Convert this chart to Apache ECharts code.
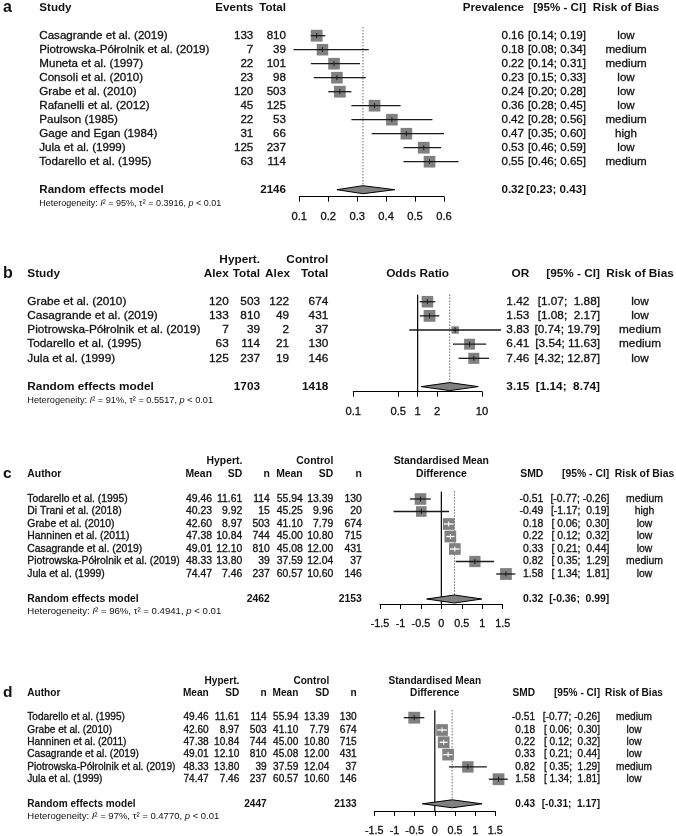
<!DOCTYPE html>
<html><head><meta charset="utf-8">
<script src="https://cdn.jsdelivr.net/npm/echarts@6/dist/echarts.min.js"></script>
<style>html,body{margin:0;padding:0;background:#fff}#c{width:676px;height:836px}</style>
</head><body><div id="c"></div>
<script>
// ---------- Panel a: prevalence ----------
const studiesA = ['Casagrande et al. (2019)', 'Piotrowska-Półrolnik et al. (2019)', 'Muneta et al. (1997)', 'Consoli et al. (2010)', 'Grabe et al. (2010)', 'Rafanelli et al. (2012)', 'Paulson (1985)', 'Gage and Egan (1984)', 'Jula et al. (1999)', 'Todarello et al. (1995)'];
const eventsA = [133, 7, 22, 23, 120, 45, 22, 31, 125, 63];
const totalA = [810, 39, 101, 98, 503, 125, 53, 66, 237, 114];
const prevA = [0.16, 0.18, 0.22, 0.23, 0.24, 0.36, 0.42, 0.47, 0.53, 0.55];
const prevLoA = [0.14, 0.08, 0.14, 0.15, 0.20, 0.28, 0.28, 0.35, 0.46, 0.46];
const prevHiA = [0.19, 0.34, 0.31, 0.33, 0.28, 0.45, 0.56, 0.60, 0.59, 0.65];
const weightA = [10.2, 9.7, 9.9, 9.9, 10.2, 10.0, 9.9, 9.9, 10.1, 10.0];
const riskA = ['low', 'medium', 'medium', 'low', 'low', 'low', 'medium', 'high', 'low', 'medium'];
const pooledTotalA = 2146;
const summaryA = [0.32, 0.23, 0.43];
const hetA = ['95%', '0.3916', '< 0.01'];
const ticksA = [0.1, 0.2, 0.3, 0.4, 0.5, 0.6];

// ---------- Panel b: odds ratio ----------
const studiesB = ['Grabe et al. (2010)', 'Casagrande et al. (2019)', 'Piotrowska-Półrolnik et al. (2019)', 'Todarello et al. (1995)', 'Jula et al. (1999)'];
const hypAlexB = [120, 133, 7, 63, 125];
const hypTotalB = [503, 810, 39, 114, 237];
const ctrlAlexB = [122, 49, 2, 21, 19];
const ctrlTotalB = [674, 431, 37, 130, 146];
const orB = [1.42, 1.53, 3.83, 6.41, 7.46];
const orLoB = [1.07, 1.08, 0.74, 3.54, 4.32];
const orHiB = [1.88, 2.17, 19.79, 11.63, 12.87];
const weightB = [23.5, 24.5, 9.5, 21.0, 21.5];
const riskB = ['low', 'low', 'medium', 'medium', 'low'];
const pooledTotalsB = [1703, 1418];
const summaryB = [3.15, 1.14, 8.74];
const hetB = ['91%', '0.5517', '< 0.01'];
const ticksB = [0.1, 0.5, 1, 2, 10];

// ---------- Panel c: SMD (7 studies) ----------
const studiesC = ['Todarello et al. (1995)', 'Di Trani et al. (2018)', 'Grabe et al. (2010)', 'Hanninen et al. (2011)', 'Casagrande et al. (2019)', 'Piotrowska-Półrolnik et al. (2019)', 'Jula et al. (1999)'];
const hMeanC = [49.46, 40.23, 42.60, 47.38, 49.01, 48.33, 74.47];
const hSdC = [11.61, 9.92, 8.97, 10.84, 12.10, 13.80, 7.46];
const hNC = [114, 15, 503, 744, 810, 39, 237];
const cMeanC = [55.94, 45.25, 41.10, 45.00, 45.08, 37.59, 60.57];
const cSdC = [13.39, 9.96, 7.79, 10.80, 12.00, 12.04, 10.60];
const cNC = [130, 20, 674, 715, 431, 37, 146];
const smdC = [-0.51, -0.49, 0.18, 0.22, 0.33, 0.82, 1.58];
const smdLoC = [-0.77, -1.17, 0.06, 0.12, 0.21, 0.35, 1.34];
const smdHiC = [-0.26, 0.19, 0.30, 0.32, 0.44, 1.29, 1.81];
const weightC = [14.6, 12.2, 14.8, 14.8, 14.7, 13.8, 15.1];
const riskC = ['medium', 'high', 'low', 'low', 'low', 'medium', 'low'];
const pooledTotalsC = [2462, 2153];
const summaryC = [0.32, -0.36, 0.99];
const hetC = ['96%', '0.4941', '< 0.01'];
const ticksC = [-1.5, -1, -0.5, 0, 0.5, 1, 1.5];

// ---------- Panel d: SMD (6 studies) ----------
const studiesD = ['Todarello et al. (1995)', 'Grabe et al. (2010)', 'Hanninen et al. (2011)', 'Casagrande et al. (2019)', 'Piotrowska-Półrolnik et al. (2019)', 'Jula et al. (1999)'];
const hMeanD = [49.46, 42.60, 47.38, 49.01, 48.33, 74.47];
const hSdD = [11.61, 8.97, 10.84, 12.10, 13.80, 7.46];
const hND = [114, 503, 744, 810, 39, 237];
const cMeanD = [55.94, 41.10, 45.00, 45.08, 37.59, 60.57];
const cSdD = [13.39, 7.79, 10.80, 12.00, 12.04, 10.60];
const cND = [130, 674, 715, 431, 37, 146];
const smdD = [-0.51, 0.18, 0.22, 0.33, 0.82, 1.58];
const smdLoD = [-0.77, 0.06, 0.12, 0.21, 0.35, 1.34];
const smdHiD = [-0.26, 0.30, 0.32, 0.44, 1.29, 1.81];
const weightD = [17.0, 16.8, 16.8, 16.6, 15.8, 17.0];
const riskD = ['medium', 'low', 'low', 'low', 'medium', 'low'];
const pooledTotalsD = [2447, 2133];
const summaryD = [0.43, -0.31, 1.17];
const hetD = ['97%', '0.4770', '< 0.01'];
const ticksD = [-1.5, -1, -0.5, 0, 0.5, 1, 1.5];

// ---------- helpers ----------
const FONT = "'Liberation Sans', Arial, Helvetica, sans-serif";
const GREY = '#808080';
const INK = '#111';
function T(t, x, a, s, b, rich) { return { t: String(t), x: x, a: a, s: s, b: !!b, rich: rich }; }
function f2(v) { return v.toFixed(2); }
function ciText(lo, hi, wl, wh) { return '[' + f2(lo).padStart(wl) + '; ' + f2(hi).padStart(wh) + ']'; }
function widths(los, his) {
  return [Math.max(...los.map(v => f2(v).length)), Math.max(...his.map(v => f2(v).length))];
}
function hetCell(h, x, size) {
  const base = { fontSize: size, fontFamily: FONT, fill: INK };
  return T('{n|Heterogeneity: }{i|I}{n|² = ' + h[0] + ', τ² = ' + h[1] + ', }{i|p}{n| ' + h[2] + '}', x, 'left', size, 0, {
    n: base,
    i: Object.assign({}, base, { fontStyle: 'italic' })
  });
}

function textSeries(idx, rows, xRef) {
  return {
    type: 'custom', xAxisIndex: idx, yAxisIndex: idx, clip: false, silent: true, z: 5,
    data: rows.map(r => [xRef, r.r]),
    renderItem: function (params, api) {
      const row = rows[params.dataIndex];
      const y = api.coord([api.value(0), api.value(1)])[1];
      return {
        type: 'group',
        children: row.cells.map(c => {
          const st = {
            text: c.t, x: c.x, y: y, align: c.a, textAlign: c.a,
            verticalAlign: 'middle', textVerticalAlign: 'middle',
            fontSize: c.s, fontWeight: c.b ? 'bold' : 'normal', fontFamily: FONT, fill: INK
          };
          if (c.rich) st.rich = c.rich;
          else if (!c.b) { st.stroke = INK; st.lineWidth = 0.3; }
          return { type: 'text', style: st };
        })
      };
    }
  };
}

function forestSeries(idx, est, lo, hi, w) {
  const wmax = Math.max(...w);
  const boxMax = 11.8;
  return {
    type: 'custom', xAxisIndex: idx, yAxisIndex: idx, clip: false, silent: true, z: 3,
    data: est.map((e, i) => [e, lo[i], hi[i], w[i], i]),
    renderItem: function (params, api) {
      const c = api.coord([api.value(0), api.value(4)]);
      const pl = api.coord([api.value(1), api.value(4)])[0];
      const ph = api.coord([api.value(2), api.value(4)])[0];
      const s = boxMax * Math.sqrt(api.value(3) / wmax);
      const inside = pl >= c[0] - s / 2 && ph <= c[0] + s / 2;
      const lc = inside ? '#ffffff' : '#1a1a1a';
      return {
        type: 'group', children: [
          { type: 'rect', shape: { x: c[0] - s / 2, y: c[1] - s / 2, width: s, height: s }, style: { fill: GREY } },
          { type: 'line', shape: { x1: pl, y1: c[1], x2: ph, y2: c[1] }, style: { stroke: lc, lineWidth: 1.3 } },
          { type: 'line', shape: { x1: c[0], y1: c[1] - 2.5, x2: c[0], y2: c[1] + 2.5 }, style: { stroke: lc, lineWidth: 1 } }
        ]
      };
    }
  };
}

function diamondSeries(idx, s, row) {
  return {
    type: 'custom', xAxisIndex: idx, yAxisIndex: idx, clip: false, silent: true, z: 4,
    data: [[s[0], s[1], s[2], row]],
    renderItem: function (params, api) {
      const c = api.coord([api.value(0), api.value(3)]);
      const l = api.coord([api.value(1), api.value(3)])[0];
      const r = api.coord([api.value(2), api.value(3)])[0];
      const h = 4;
      return {
        type: 'polygon',
        shape: { points: [[l, c[1]], [c[0], c[1] - h], [r, c[1]], [c[0], c[1] + h]] },
        style: { fill: GREY, stroke: '#000', lineWidth: 1 }
      };
    }
  };
}

function vlineSeries(idx, x, r0, r1, dotted) {
  return {
    type: 'custom', xAxisIndex: idx, yAxisIndex: idx, clip: false, silent: true, z: 2,
    data: [[x, r0, r1]],
    renderItem: function (params, api) {
      const a = api.coord([api.value(0), api.value(1)]);
      const b = api.coord([api.value(0), api.value(2)]);
      return {
        type: 'line', shape: { x1: a[0], y1: a[1], x2: b[0], y2: b[1] },
        style: dotted ? { stroke: '#222', lineWidth: 1, lineDash: [1, 2] } : { stroke: '#000', lineWidth: 1.2 }
      };
    }
  };
}

// ---------- table rows ----------
const SA = 11.6, SB = 11.8, SC = 10.4, SD = 10.1;

// a
const LA = { name: 39.3, events: 253.3, total: 286, est: 524, ci: 586, risk: 626 };
const wA = widths(prevLoA.concat([summaryA[1]]), prevHiA.concat([summaryA[2]]));
const rowsA = [{ r: -2, cells: [T('a', 3, 'left', 16, 1), T('Study', LA.name, 'left', SA, 1), T('Events', LA.events, 'right', SA, 1), T('Total', LA.total, 'right', SA, 1), T('Prevalence', LA.est, 'right', SA, 1), T('[95% - CI]', LA.ci, 'right', SA, 1), T('Risk of Bias', LA.risk, 'center', SA, 1)] }];
studiesA.forEach((s, i) => rowsA.push({ r: i, cells: [T(s, LA.name, 'left', SA), T(eventsA[i], LA.events, 'right', SA), T(totalA[i], LA.total, 'right', SA), T(f2(prevA[i]), LA.est, 'right', SA), T(ciText(prevLoA[i], prevHiA[i], wA[0], wA[1]), LA.ci, 'right', SA), T(riskA[i], LA.risk, 'center', SA)] }));
rowsA.push({ r: 11, cells: [T('Random effects model', LA.name, 'left', SA, 1), T(pooledTotalA, LA.total, 'right', SA, 1), T(f2(summaryA[0]), LA.est, 'right', SA, 1), T(ciText(summaryA[1], summaryA[2], wA[0], wA[1]), LA.ci, 'right', SA, 1)] });
rowsA.push({ r: 12, cells: [hetCell(hetA, LA.name, 9.0)] });

// b
const LB = { name: 27.3, ha: 228.7, ht: 260, ca: 290, ct: 328.3, mid: 417.6, est: 529.3, ci: 600, risk: 640 };
const wB = widths(orLoB.concat([summaryB[1]]), orHiB.concat([summaryB[2]]));
const rowsB = [
  { r: -3, cells: [T('Hypert.', LB.ht, 'right', SB, 1), T('Control', LB.ct, 'right', SB, 1)] },
  { r: -2, cells: [T('b', 3, 'left', 16, 1), T('Study', LB.name, 'left', SB, 1), T('Alex', LB.ha, 'right', SB, 1), T('Total', LB.ht, 'right', SB, 1), T('Alex', LB.ca, 'right', SB, 1), T('Total', LB.ct, 'right', SB, 1), T('Odds Ratio', LB.mid, 'center', SB, 1), T('OR', LB.est, 'right', SB, 1), T('[95% - CI]', LB.ci, 'right', SB, 1), T('Risk of Bias', LB.risk, 'center', SB, 1)] }
];
studiesB.forEach((s, i) => rowsB.push({ r: i, cells: [T(s, LB.name, 'left', SB), T(hypAlexB[i], LB.ha, 'right', SB), T(hypTotalB[i], LB.ht, 'right', SB), T(ctrlAlexB[i], LB.ca - 1, 'right', SB), T(ctrlTotalB[i], LB.ct, 'right', SB), T(f2(orB[i]), LB.est, 'right', SB), T(ciText(orLoB[i], orHiB[i], wB[0], wB[1]), LB.ci, 'right', SB), T(riskB[i], LB.risk, 'center', SB)] }));
rowsB.push({ r: 6, cells: [T('Random effects model', LB.name, 'left', SB, 1), T(pooledTotalsB[0], LB.ht, 'right', SB, 1), T(pooledTotalsB[1], LB.ct, 'right', SB, 1), T(f2(summaryB[0]), LB.est, 'right', SB, 1), T(ciText(summaryB[1], summaryB[2], wB[0], wB[1]), LB.ci, 'right', SB, 1)] });
rowsB.push({ r: 7, cells: [hetCell(hetB, LB.name, 9.2)] });

// c & d builder
function smdRows(letter, L, S, studies, hm, hs, hn, cm, cs, cn, est, lo, hi, risk, totals, summ, het, sumRow, hetSize) {
  const w = widths(lo.concat([summ[1]]), hi.concat([summ[2]]));
  const rows = [
    { r: -3, cells: [T('Hypert.', L.hs, 'right', S, 1), T('Control', L.cs, 'right', S, 1), T('Standardised Mean', L.mid, 'center', S, 1)] },
    { r: -2, cells: [T(letter, 3, 'left', 15.5, 1), T('Author', L.name, 'left', S, 1), T('Mean', L.hm, 'right', S, 1), T('SD', L.hs, 'right', S, 1), T('n', L.hn, 'right', S, 1), T('Mean', L.cm, 'right', S, 1), T('SD', L.cs, 'right', S, 1), T('n', L.cn, 'right', S, 1), T('Difference', L.mid, 'center', S, 1), T('SMD', L.est, 'right', S, 1), T('[95% - CI]', L.ci, 'right', S, 1), T('Risk of Bias', L.risk, 'center', S, 1)] }
  ];
  studies.forEach((s, i) => rows.push({ r: i, cells: [T(s, L.name, 'left', S), T(f2(hm[i]), L.hm, 'right', S), T(f2(hs[i]), L.hs, 'right', S), T(hn[i], L.hn, 'right', S), T(f2(cm[i]), L.cm, 'right', S), T(f2(cs[i]), L.cs, 'right', S), T(cn[i], L.cn, 'right', S), T(f2(est[i]), L.est, 'right', S), T(ciText(lo[i], hi[i], w[0], w[1]), L.ci, 'right', S), T(risk[i], L.risk, 'center', S)] }));
  rows.push({ r: sumRow, cells: [T('Random effects model', L.name, 'left', S, 1), T(totals[0], L.hn, 'right', S, 1), T(totals[1], L.cn, 'right', S, 1), T(f2(summ[0]), L.est, 'right', S, 1), T(ciText(summ[1], summ[2], w[0], w[1]), L.ci, 'right', S, 1)] });
  rows.push({ r: sumRow + 1, cells: [hetCell(het, L.name, hetSize)] });
  return rows;
}
const LC = { name: 27.3, hm: 212, hs: 242.3, hn: 269.8, cm: 302.7, cs: 333.3, cn: 361.8, mid: 441.3, est: 543.3, ci: 609.3, risk: 644.5 };
const LD = { name: 27.3, hm: 208.7, hs: 239.3, hn: 266.7, cm: 298.3, cs: 329.3, cn: 356.7, mid: 434.8, est: 535, ci: 600, risk: 634 };
const rowsC = smdRows('c', LC, SC, studiesC, hMeanC, hSdC, hNC, cMeanC, cSdC, cNC, smdC, smdLoC, smdHiC, riskC, pooledTotalsC, summaryC, hetC, 8, 9.6);
const rowsD = smdRows('d', LD, SD, studiesD, hMeanD, hSdD, hND, cMeanD, cSdD, cND, smdD, smdLoD, smdHiD, riskD, pooledTotalsD, summaryD, hetD, 7, 9.5);

// ---------- layout ----------
const grids = [
  { left: 299.3, width: 144.7, top: 0.7, height: 196 },
  { left: 353.3, width: 128.7, top: 252.2, height: 139.5 },
  { left: 380, width: 122.7, top: 455.25, height: 148.75 },
  { left: 374.3, width: 121, top: 674.65, height: 136.35 }
];
const yRanges = [[-2.5, 11.5], [-3.5, 6.359], [-3.5, 8.4], [-3.5, 7.585]];

function xAxisBase(idx, fs) {
  return {
    gridIndex: idx, position: 'bottom',
    axisLine: { show: true, onZero: false, lineStyle: { color: '#000', width: 1 } },
    axisTick: { show: true, length: 5, inside: false, lineStyle: { color: '#000', width: 1 } },
    axisLabel: { show: true, color: INK, fontSize: fs, fontFamily: FONT, margin: 15, showMinLabel: true, showMaxLabel: true, hideOverlap: false, textBorderColor: INK, textBorderWidth: 0.3 },
    splitLine: { show: false }, minorTick: { show: false }
  };
}
const xA = Object.assign(xAxisBase(0, 11.2), { type: 'value', min: ticksA[0], max: ticksA[ticksA.length - 1], interval: 0.1 });
const xB = xAxisBase(1, 11.2);
Object.assign(xB, { type: 'log', logBase: 10, min: ticksB[0], max: ticksB[ticksB.length - 1] });
xB.axisTick.customValues = ticksB;
xB.axisLabel.customValues = ticksB;
xB.axisLabel.formatter = v => String(+(+v).toPrecision(6));
const xC = Object.assign(xAxisBase(2, 10.8), { type: 'value', min: ticksC[0], max: ticksC[ticksC.length - 1], interval: 0.5 });
const xD = Object.assign(xAxisBase(3, 10.8), { type: 'value', min: ticksD[0], max: ticksD[ticksD.length - 1], interval: 0.5 });

const option = {
  backgroundColor: '#ffffff',
  animation: false,
  grid: grids.map(g => Object.assign({ containLabel: false, outerBoundsMode: 'none', show: false }, g)),
  xAxis: [xA, xB, xC, xD],
  yAxis: yRanges.map((r, i) => ({ gridIndex: i, type: 'value', min: r[0], max: r[1], inverse: true, show: false })),
  series: [
    // a
    vlineSeries(0, summaryA[0], -0.6, 11, true),
    forestSeries(0, prevA, prevLoA, prevHiA, weightA),
    diamondSeries(0, summaryA, 11),
    textSeries(0, rowsA, ticksA[0]),
    // b
    vlineSeries(1, 1, -0.5, yRanges[1][1], false),
    vlineSeries(1, summaryB[0], -0.5, 6, true),
    forestSeries(1, orB, orLoB, orHiB, weightB),
    diamondSeries(1, summaryB, 6),
    textSeries(1, rowsB, ticksB[0]),
    // c
    vlineSeries(2, 0, -0.6, yRanges[2][1], false),
    vlineSeries(2, summaryC[0], -0.6, 8, true),
    forestSeries(2, smdC, smdLoC, smdHiC, weightC),
    diamondSeries(2, summaryC, 8),
    textSeries(2, rowsC, ticksC[0]),
    // d
    vlineSeries(3, 0, -0.6, yRanges[3][1], false),
    vlineSeries(3, summaryD[0], -0.6, 7, true),
    forestSeries(3, smdD, smdLoD, smdHiD, weightD),
    diamondSeries(3, summaryD, 7),
    textSeries(3, rowsD, ticksD[0])
  ]
};
const chart = echarts.init(document.getElementById('c'), null, { renderer: 'canvas' });
chart.setOption(option);
</script></body></html>
